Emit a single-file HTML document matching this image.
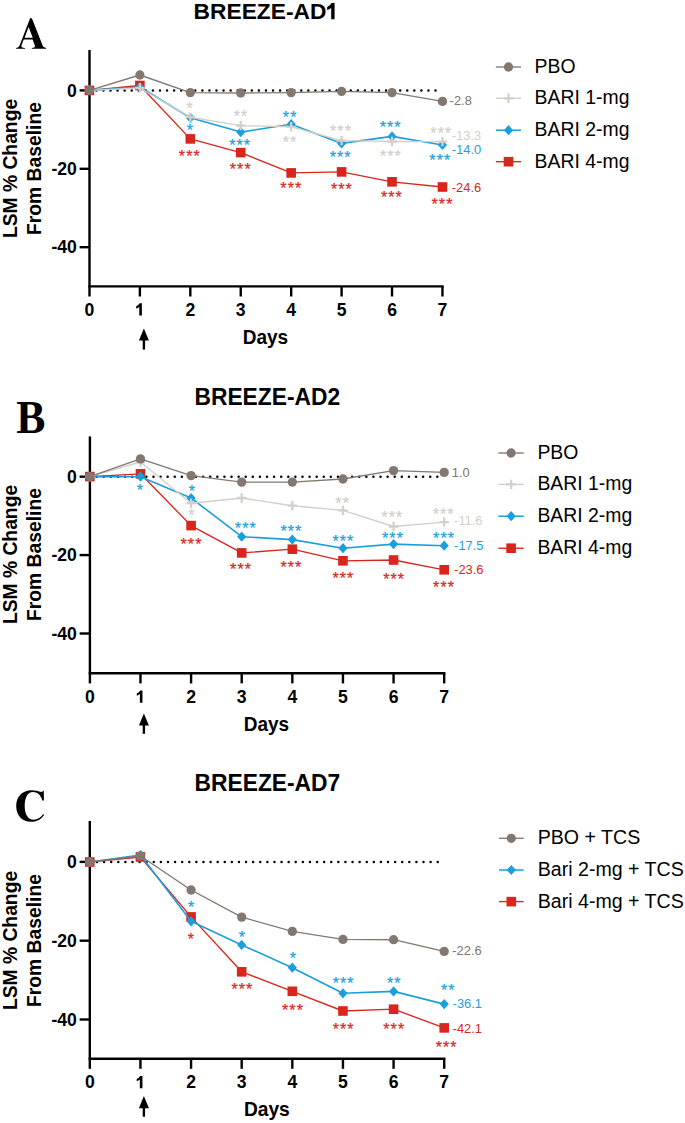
<!DOCTYPE html>
<html><head><meta charset="utf-8"><style>
html,body{margin:0;padding:0;background:#fff;}
svg{display:block;}
text{font-family:"Liberation Sans",sans-serif;}
text.serif{font-family:"Liberation Serif",serif;}
text.st{font-size:16px;stroke-width:0.25px;}
</style></head><body>
<svg width="685" height="1123" viewBox="0 0 685 1123">
<rect width="685" height="1123" fill="#fff"/>
<path fill-rule="evenodd" fill="#000" d="M30.1 18.3L31.9 18.3L42.9 46.3Q43.6 47.7 46.2 47.9L46.2 48.8L31.9 48.8L31.9 47.9Q34.8 47.8 35.0 46.8Q35.1 46.2 34.7 45.0L32.6 39.4L23.7 39.4L21.6 45.0Q21.0 47.0 22.2 47.6Q23.2 47.9 25.0 47.9L25.0 48.8L16.1 48.8L16.1 47.9Q18.6 47.7 19.6 45.6L30.1 18.3Z M28.6 27.0L24.6 37.8L32.8 37.8Z"/>
<text transform="translate(193.60,19.40)" font-size="22.75" font-weight="bold">BREEZE-AD</text>
<path fill="#000" d="M334.58 3.06L334.58 19.30L331.20 19.30L331.20 7.95Q329.51 9.40 327.17 10.06L327.17 7.02Q330.29 5.84 331.59 3.06Z"/>
<text transform="translate(17.15,168.50) rotate(-90) scale(1.0,1.05)" font-size="19.3" font-weight="bold" text-anchor="middle">LSM % Change</text>
<text transform="translate(40.90,168.50) rotate(-90)" font-size="19.3" font-weight="bold" text-anchor="middle">From Baseline</text>
<line x1="89.5" y1="50.0" x2="89.5" y2="296.5" stroke="#000" stroke-width="2.4"/>
<line x1="88.30" y1="286.4" x2="443.66" y2="286.4" stroke="#000" stroke-width="2.4"/>
<line x1="79.6" y1="90.40" x2="89.5" y2="90.40" stroke="#000" stroke-width="2.4"/>
<text transform="translate(76.90,96.60) scale(1.0,1.05)" font-size="17.6" font-weight="bold" text-anchor="end">0</text>
<line x1="79.6" y1="168.80" x2="89.5" y2="168.80" stroke="#000" stroke-width="2.4"/>
<text transform="translate(76.90,175.00) scale(1.0,1.05)" font-size="17.6" font-weight="bold" text-anchor="end">-20</text>
<line x1="79.6" y1="247.20" x2="89.5" y2="247.20" stroke="#000" stroke-width="2.4"/>
<text transform="translate(76.90,253.40) scale(1.0,1.05)" font-size="17.6" font-weight="bold" text-anchor="end">-40</text>
<text transform="translate(89.45,315.60) scale(1.0,1.03)" font-size="17.6" font-weight="bold" text-anchor="middle">0</text>
<line x1="139.88" y1="286.4" x2="139.88" y2="296.5" stroke="#000" stroke-width="2.4"/>
<path fill="#000" d="M141.88 303.30L141.88 315.60L139.28 315.60L139.28 307.00Q137.98 308.10 136.18 308.60L136.18 306.30Q138.58 305.40 139.58 303.30Z"/>
<line x1="190.31" y1="286.4" x2="190.31" y2="296.5" stroke="#000" stroke-width="2.4"/>
<text transform="translate(190.31,315.60) scale(1.0,1.03)" font-size="17.6" font-weight="bold" text-anchor="middle">2</text>
<line x1="240.74" y1="286.4" x2="240.74" y2="296.5" stroke="#000" stroke-width="2.4"/>
<text transform="translate(240.74,315.60) scale(1.0,1.03)" font-size="17.6" font-weight="bold" text-anchor="middle">3</text>
<line x1="291.17" y1="286.4" x2="291.17" y2="296.5" stroke="#000" stroke-width="2.4"/>
<text transform="translate(291.17,315.60) scale(1.0,1.03)" font-size="17.6" font-weight="bold" text-anchor="middle">4</text>
<line x1="341.60" y1="286.4" x2="341.60" y2="296.5" stroke="#000" stroke-width="2.4"/>
<text transform="translate(341.60,315.60) scale(1.0,1.03)" font-size="17.6" font-weight="bold" text-anchor="middle">5</text>
<line x1="392.03" y1="286.4" x2="392.03" y2="296.5" stroke="#000" stroke-width="2.4"/>
<text transform="translate(392.03,315.60) scale(1.0,1.03)" font-size="17.6" font-weight="bold" text-anchor="middle">6</text>
<line x1="442.46" y1="286.4" x2="442.46" y2="296.5" stroke="#000" stroke-width="2.4"/>
<text transform="translate(442.46,315.60) scale(1.0,1.03)" font-size="17.6" font-weight="bold" text-anchor="middle">7</text>
<line x1="143.9" y1="339.60" x2="143.9" y2="349.60" stroke="#000" stroke-width="2.4"/>
<path d="M143.9 328.50L148.9 340.60L138.9 340.60Z" fill="#000"/>
<text transform="translate(242.70,343.70) scale(1.0,1.05)" font-size="19.0" font-weight="bold">Days</text>
<line x1="96.39" y1="90.40" x2="435.81" y2="90.40" stroke="#000" stroke-width="2.5" stroke-dasharray="0 7.065" stroke-linecap="round"/>
<polyline points="89.45,90.40 139.88,85.50 190.31,138.90 240.74,152.60 291.17,172.90 341.60,171.90 392.03,181.80 442.46,187.00" fill="none" stroke="#d9261c" stroke-width="1.35" stroke-linejoin="round"/>
<rect x="84.65" y="85.60" width="9.6" height="9.6" fill="#d9261c"/>
<rect x="135.08" y="80.70" width="9.6" height="9.6" fill="#d9261c"/>
<rect x="185.51" y="134.10" width="9.6" height="9.6" fill="#d9261c"/>
<rect x="235.94" y="147.80" width="9.6" height="9.6" fill="#d9261c"/>
<rect x="286.37" y="168.10" width="9.6" height="9.6" fill="#d9261c"/>
<rect x="336.80" y="167.10" width="9.6" height="9.6" fill="#d9261c"/>
<rect x="387.23" y="177.00" width="9.6" height="9.6" fill="#d9261c"/>
<rect x="437.66" y="182.20" width="9.6" height="9.6" fill="#d9261c"/>
<polyline points="89.45,90.40 139.88,87.00 190.31,117.80 240.74,132.10 291.17,124.20 341.60,143.40 392.03,136.40 442.46,145.00" fill="none" stroke="#1b9fdc" stroke-width="1.6" stroke-linejoin="round"/>
<path d="M89.45 85.30L94.05 90.40L89.45 95.50L84.85 90.40Z" fill="#1b9fdc"/>
<path d="M139.88 81.90L144.48 87.00L139.88 92.10L135.28 87.00Z" fill="#1b9fdc"/>
<path d="M190.31 112.70L194.91 117.80L190.31 122.90L185.71 117.80Z" fill="#1b9fdc"/>
<path d="M240.74 127.00L245.34 132.10L240.74 137.20L236.14 132.10Z" fill="#1b9fdc"/>
<path d="M291.17 119.10L295.77 124.20L291.17 129.30L286.57 124.20Z" fill="#1b9fdc"/>
<path d="M341.60 138.30L346.20 143.40L341.60 148.50L337.00 143.40Z" fill="#1b9fdc"/>
<path d="M392.03 131.30L396.63 136.40L392.03 141.50L387.43 136.40Z" fill="#1b9fdc"/>
<path d="M442.46 139.90L447.06 145.00L442.46 150.10L437.86 145.00Z" fill="#1b9fdc"/>
<polyline points="89.45,90.40 139.88,88.00 190.31,117.20 240.74,125.60 291.17,126.80 341.60,140.60 392.03,141.50 442.46,141.60" fill="none" stroke="#d2d0ca" stroke-width="1.4" stroke-linejoin="round"/>
<path d="M84.75 90.40H94.15M89.45 85.70V95.10" stroke="#d2d0ca" stroke-width="2.3"/>
<path d="M135.18 88.00H144.58M139.88 83.30V92.70" stroke="#d2d0ca" stroke-width="2.3"/>
<path d="M185.61 117.20H195.01M190.31 112.50V121.90" stroke="#d2d0ca" stroke-width="2.3"/>
<path d="M236.04 125.60H245.44M240.74 120.90V130.30" stroke="#d2d0ca" stroke-width="2.3"/>
<path d="M286.47 126.80H295.87M291.17 122.10V131.50" stroke="#d2d0ca" stroke-width="2.3"/>
<path d="M336.90 140.60H346.30M341.60 135.90V145.30" stroke="#d2d0ca" stroke-width="2.3"/>
<path d="M387.33 141.50H396.73M392.03 136.80V146.20" stroke="#d2d0ca" stroke-width="2.3"/>
<path d="M437.76 141.60H447.16M442.46 136.90V146.30" stroke="#d2d0ca" stroke-width="2.3"/>
<polyline points="89.45,90.40 139.88,75.00 190.31,92.60 240.74,93.00 291.17,92.60 341.60,91.40 392.03,92.60 442.46,101.40" fill="none" stroke="#827870" stroke-width="1.35" stroke-linejoin="round"/>
<circle cx="89.45" cy="90.40" r="4.65" fill="#827870"/>
<circle cx="139.88" cy="75.00" r="4.65" fill="#827870"/>
<circle cx="190.31" cy="92.60" r="4.65" fill="#827870"/>
<circle cx="240.74" cy="93.00" r="4.65" fill="#827870"/>
<circle cx="291.17" cy="92.60" r="4.65" fill="#827870"/>
<circle cx="341.60" cy="91.40" r="4.65" fill="#827870"/>
<circle cx="392.03" cy="92.60" r="4.65" fill="#827870"/>
<circle cx="442.46" cy="101.40" r="4.65" fill="#827870"/>
<text x="189.65" y="114.30" text-anchor="middle" class="st" fill="#d2d0ca" stroke="#d2d0ca">*</text>
<text x="189.75" y="136.10" text-anchor="middle" class="st" fill="#1b9fdc" stroke="#1b9fdc">*</text>
<text x="181.95" y="161.60" text-anchor="middle" class="st" fill="#d9261c" stroke="#d9261c">*</text>
<text x="189.25" y="161.60" text-anchor="middle" class="st" fill="#d9261c" stroke="#d9261c">*</text>
<text x="196.55" y="161.60" text-anchor="middle" class="st" fill="#d9261c" stroke="#d9261c">*</text>
<text x="236.85" y="122.40" text-anchor="middle" class="st" fill="#d2d0ca" stroke="#d2d0ca">*</text>
<text x="244.15" y="122.40" text-anchor="middle" class="st" fill="#d2d0ca" stroke="#d2d0ca">*</text>
<text x="232.30" y="151.10" text-anchor="middle" class="st" fill="#1b9fdc" stroke="#1b9fdc">*</text>
<text x="239.60" y="151.10" text-anchor="middle" class="st" fill="#1b9fdc" stroke="#1b9fdc">*</text>
<text x="246.90" y="151.10" text-anchor="middle" class="st" fill="#1b9fdc" stroke="#1b9fdc">*</text>
<text x="232.90" y="174.70" text-anchor="middle" class="st" fill="#d9261c" stroke="#d9261c">*</text>
<text x="240.20" y="174.70" text-anchor="middle" class="st" fill="#d9261c" stroke="#d9261c">*</text>
<text x="247.50" y="174.70" text-anchor="middle" class="st" fill="#d9261c" stroke="#d9261c">*</text>
<text x="285.95" y="122.80" text-anchor="middle" class="st" fill="#1b9fdc" stroke="#1b9fdc">*</text>
<text x="293.25" y="122.80" text-anchor="middle" class="st" fill="#1b9fdc" stroke="#1b9fdc">*</text>
<text x="285.90" y="148.10" text-anchor="middle" class="st" fill="#d2d0ca" stroke="#d2d0ca">*</text>
<text x="293.20" y="148.10" text-anchor="middle" class="st" fill="#d2d0ca" stroke="#d2d0ca">*</text>
<text x="283.45" y="194.40" text-anchor="middle" class="st" fill="#d9261c" stroke="#d9261c">*</text>
<text x="290.75" y="194.40" text-anchor="middle" class="st" fill="#d9261c" stroke="#d9261c">*</text>
<text x="298.05" y="194.40" text-anchor="middle" class="st" fill="#d9261c" stroke="#d9261c">*</text>
<text x="333.15" y="137.20" text-anchor="middle" class="st" fill="#d2d0ca" stroke="#d2d0ca">*</text>
<text x="340.45" y="137.20" text-anchor="middle" class="st" fill="#d2d0ca" stroke="#d2d0ca">*</text>
<text x="347.75" y="137.20" text-anchor="middle" class="st" fill="#d2d0ca" stroke="#d2d0ca">*</text>
<text x="332.85" y="162.80" text-anchor="middle" class="st" fill="#1b9fdc" stroke="#1b9fdc">*</text>
<text x="340.15" y="162.80" text-anchor="middle" class="st" fill="#1b9fdc" stroke="#1b9fdc">*</text>
<text x="347.45" y="162.80" text-anchor="middle" class="st" fill="#1b9fdc" stroke="#1b9fdc">*</text>
<text x="334.05" y="194.50" text-anchor="middle" class="st" fill="#d9261c" stroke="#d9261c">*</text>
<text x="341.35" y="194.50" text-anchor="middle" class="st" fill="#d9261c" stroke="#d9261c">*</text>
<text x="348.65" y="194.50" text-anchor="middle" class="st" fill="#d9261c" stroke="#d9261c">*</text>
<text x="382.75" y="132.70" text-anchor="middle" class="st" fill="#1b9fdc" stroke="#1b9fdc">*</text>
<text x="390.05" y="132.70" text-anchor="middle" class="st" fill="#1b9fdc" stroke="#1b9fdc">*</text>
<text x="397.35" y="132.70" text-anchor="middle" class="st" fill="#1b9fdc" stroke="#1b9fdc">*</text>
<text x="383.05" y="161.90" text-anchor="middle" class="st" fill="#d2d0ca" stroke="#d2d0ca">*</text>
<text x="390.35" y="161.90" text-anchor="middle" class="st" fill="#d2d0ca" stroke="#d2d0ca">*</text>
<text x="397.65" y="161.90" text-anchor="middle" class="st" fill="#d2d0ca" stroke="#d2d0ca">*</text>
<text x="384.05" y="203.20" text-anchor="middle" class="st" fill="#d9261c" stroke="#d9261c">*</text>
<text x="391.35" y="203.20" text-anchor="middle" class="st" fill="#d9261c" stroke="#d9261c">*</text>
<text x="398.65" y="203.20" text-anchor="middle" class="st" fill="#d9261c" stroke="#d9261c">*</text>
<text x="433.45" y="138.60" text-anchor="middle" class="st" fill="#d2d0ca" stroke="#d2d0ca">*</text>
<text x="440.75" y="138.60" text-anchor="middle" class="st" fill="#d2d0ca" stroke="#d2d0ca">*</text>
<text x="448.05" y="138.60" text-anchor="middle" class="st" fill="#d2d0ca" stroke="#d2d0ca">*</text>
<text x="432.45" y="165.70" text-anchor="middle" class="st" fill="#1b9fdc" stroke="#1b9fdc">*</text>
<text x="439.75" y="165.70" text-anchor="middle" class="st" fill="#1b9fdc" stroke="#1b9fdc">*</text>
<text x="447.05" y="165.70" text-anchor="middle" class="st" fill="#1b9fdc" stroke="#1b9fdc">*</text>
<text x="434.65" y="210.00" text-anchor="middle" class="st" fill="#d9261c" stroke="#d9261c">*</text>
<text x="441.95" y="210.00" text-anchor="middle" class="st" fill="#d9261c" stroke="#d9261c">*</text>
<text x="449.25" y="210.00" text-anchor="middle" class="st" fill="#d9261c" stroke="#d9261c">*</text>
<text transform="translate(449.60,104.85)" font-size="12.9" fill="#7d746d">-2.8</text>
<text transform="translate(451.80,140.05)" font-size="12.9" fill="#d2d0ca">-13.3</text>
<text transform="translate(451.80,154.15)" font-size="12.9" fill="#1b9fdc">-14.0</text>
<text transform="translate(451.80,192.45)" font-size="12.9" fill="#d9261c">-24.6</text>
<line x1="495.9" y1="67" x2="521.0" y2="67" stroke="#827870" stroke-width="1.35"/>
<circle cx="508.50" cy="67.00" r="4.65" fill="#827870"/>
<text transform="translate(534.60,73.00)" font-size="19.4">PBO</text>
<line x1="495.9" y1="98.3" x2="521.0" y2="98.3" stroke="#d2d0ca" stroke-width="1.35"/>
<path d="M503.80 98.30H513.20M508.50 93.60V103.00" stroke="#d2d0ca" stroke-width="2.3"/>
<text transform="translate(534.60,104.30)" font-size="19.4">BARI 1-mg</text>
<line x1="495.9" y1="130.2" x2="521.0" y2="130.2" stroke="#1b9fdc" stroke-width="1.5"/>
<path d="M508.50 125.10L513.10 130.20L508.50 135.30L503.90 130.20Z" fill="#1b9fdc"/>
<text transform="translate(534.60,136.20)" font-size="19.4">BARI 2-mg</text>
<line x1="495.9" y1="161.7" x2="521.0" y2="161.7" stroke="#d9261c" stroke-width="1.35"/>
<rect x="503.70" y="156.90" width="9.6" height="9.6" fill="#d9261c"/>
<text transform="translate(534.60,167.70)" font-size="19.4">BARI 4-mg</text>
<text transform="translate(16.30,433.10) scale(0.96,1.0)" font-size="45.5" font-weight="bold" class="serif">B</text>
<text transform="translate(194.50,404.80) scale(1.0,1.035)" font-size="22.8" font-weight="bold">BREEZE-AD2</text>
<text transform="translate(17.15,554.50) rotate(-90) scale(1.0,1.05)" font-size="19.3" font-weight="bold" text-anchor="middle">LSM % Change</text>
<text transform="translate(40.90,554.50) rotate(-90)" font-size="19.3" font-weight="bold" text-anchor="middle">From Baseline</text>
<line x1="89.9" y1="436.4" x2="89.9" y2="683.4" stroke="#000" stroke-width="2.4"/>
<line x1="88.70" y1="673.3" x2="445.39" y2="673.3" stroke="#000" stroke-width="2.4"/>
<line x1="79.6" y1="476.66" x2="89.9" y2="476.66" stroke="#000" stroke-width="2.4"/>
<text transform="translate(76.90,482.86) scale(1.0,1.05)" font-size="17.6" font-weight="bold" text-anchor="end">0</text>
<line x1="79.6" y1="555.08" x2="89.9" y2="555.08" stroke="#000" stroke-width="2.4"/>
<text transform="translate(76.90,561.28) scale(1.0,1.05)" font-size="17.6" font-weight="bold" text-anchor="end">-20</text>
<line x1="79.6" y1="633.50" x2="89.9" y2="633.50" stroke="#000" stroke-width="2.4"/>
<text transform="translate(76.90,639.70) scale(1.0,1.05)" font-size="17.6" font-weight="bold" text-anchor="end">-40</text>
<text transform="translate(89.85,702.70) scale(1.0,1.03)" font-size="17.6" font-weight="bold" text-anchor="middle">0</text>
<line x1="140.47" y1="673.3" x2="140.47" y2="683.4" stroke="#000" stroke-width="2.4"/>
<path fill="#000" d="M142.47 690.40L142.47 702.70L139.87 702.70L139.87 694.10Q138.57 695.20 136.77 695.70L136.77 693.40Q139.17 692.50 140.17 690.40Z"/>
<line x1="191.09" y1="673.3" x2="191.09" y2="683.4" stroke="#000" stroke-width="2.4"/>
<text transform="translate(191.09,702.70) scale(1.0,1.03)" font-size="17.6" font-weight="bold" text-anchor="middle">2</text>
<line x1="241.71" y1="673.3" x2="241.71" y2="683.4" stroke="#000" stroke-width="2.4"/>
<text transform="translate(241.71,702.70) scale(1.0,1.03)" font-size="17.6" font-weight="bold" text-anchor="middle">3</text>
<line x1="292.33" y1="673.3" x2="292.33" y2="683.4" stroke="#000" stroke-width="2.4"/>
<text transform="translate(292.33,702.70) scale(1.0,1.03)" font-size="17.6" font-weight="bold" text-anchor="middle">4</text>
<line x1="342.95" y1="673.3" x2="342.95" y2="683.4" stroke="#000" stroke-width="2.4"/>
<text transform="translate(342.95,702.70) scale(1.0,1.03)" font-size="17.6" font-weight="bold" text-anchor="middle">5</text>
<line x1="393.57" y1="673.3" x2="393.57" y2="683.4" stroke="#000" stroke-width="2.4"/>
<text transform="translate(393.57,702.70) scale(1.0,1.03)" font-size="17.6" font-weight="bold" text-anchor="middle">6</text>
<line x1="444.19" y1="673.3" x2="444.19" y2="683.4" stroke="#000" stroke-width="2.4"/>
<text transform="translate(444.19,702.70) scale(1.0,1.03)" font-size="17.6" font-weight="bold" text-anchor="middle">7</text>
<line x1="143.9" y1="724.50" x2="143.9" y2="733.80" stroke="#000" stroke-width="2.4"/>
<path d="M143.9 713.40L148.9 725.50L138.9 725.50Z" fill="#000"/>
<text transform="translate(243.70,731.00) scale(1.0,1.05)" font-size="19.0" font-weight="bold">Days</text>
<line x1="96.70" y1="476.66" x2="437.60" y2="476.66" stroke="#000" stroke-width="2.5" stroke-dasharray="0 7.096" stroke-linecap="round"/>
<polyline points="89.85,476.60 140.47,473.80 191.09,525.60 241.71,552.90 292.33,549.20 342.95,560.80 393.57,560.00 444.19,569.80" fill="none" stroke="#d9261c" stroke-width="1.35" stroke-linejoin="round"/>
<rect x="85.05" y="471.80" width="9.6" height="9.6" fill="#d9261c"/>
<rect x="135.67" y="469.00" width="9.6" height="9.6" fill="#d9261c"/>
<rect x="186.29" y="520.80" width="9.6" height="9.6" fill="#d9261c"/>
<rect x="236.91" y="548.10" width="9.6" height="9.6" fill="#d9261c"/>
<rect x="287.53" y="544.40" width="9.6" height="9.6" fill="#d9261c"/>
<rect x="338.15" y="556.00" width="9.6" height="9.6" fill="#d9261c"/>
<rect x="388.77" y="555.20" width="9.6" height="9.6" fill="#d9261c"/>
<rect x="439.39" y="565.00" width="9.6" height="9.6" fill="#d9261c"/>
<polyline points="89.85,476.60 140.47,476.70 191.09,498.00 241.71,536.70 292.33,539.60 342.95,548.20 393.57,544.10 444.19,545.70" fill="none" stroke="#1b9fdc" stroke-width="1.6" stroke-linejoin="round"/>
<path d="M89.85 471.50L94.45 476.60L89.85 481.70L85.25 476.60Z" fill="#1b9fdc"/>
<path d="M140.47 471.60L145.07 476.70L140.47 481.80L135.87 476.70Z" fill="#1b9fdc"/>
<path d="M191.09 492.90L195.69 498.00L191.09 503.10L186.49 498.00Z" fill="#1b9fdc"/>
<path d="M241.71 531.60L246.31 536.70L241.71 541.80L237.11 536.70Z" fill="#1b9fdc"/>
<path d="M292.33 534.50L296.93 539.60L292.33 544.70L287.73 539.60Z" fill="#1b9fdc"/>
<path d="M342.95 543.10L347.55 548.20L342.95 553.30L338.35 548.20Z" fill="#1b9fdc"/>
<path d="M393.57 539.00L398.17 544.10L393.57 549.20L388.97 544.10Z" fill="#1b9fdc"/>
<path d="M444.19 540.60L448.79 545.70L444.19 550.80L439.59 545.70Z" fill="#1b9fdc"/>
<polyline points="89.85,476.60 140.47,462.00 191.09,503.20 241.71,498.00 292.33,505.70 342.95,510.40 393.57,526.50 444.19,522.10" fill="none" stroke="#d2d0ca" stroke-width="1.4" stroke-linejoin="round"/>
<path d="M85.15 476.60H94.55M89.85 471.90V481.30" stroke="#d2d0ca" stroke-width="2.3"/>
<path d="M135.77 462.00H145.17M140.47 457.30V466.70" stroke="#d2d0ca" stroke-width="2.3"/>
<path d="M186.39 503.20H195.79M191.09 498.50V507.90" stroke="#d2d0ca" stroke-width="2.3"/>
<path d="M237.01 498.00H246.41M241.71 493.30V502.70" stroke="#d2d0ca" stroke-width="2.3"/>
<path d="M287.63 505.70H297.03M292.33 501.00V510.40" stroke="#d2d0ca" stroke-width="2.3"/>
<path d="M338.25 510.40H347.65M342.95 505.70V515.10" stroke="#d2d0ca" stroke-width="2.3"/>
<path d="M388.87 526.50H398.27M393.57 521.80V531.20" stroke="#d2d0ca" stroke-width="2.3"/>
<path d="M439.49 522.10H448.89M444.19 517.40V526.80" stroke="#d2d0ca" stroke-width="2.3"/>
<polyline points="89.85,476.60 140.47,458.90 191.09,475.60 241.71,482.10 292.33,482.10 342.95,479.00 393.57,470.60 444.19,472.40" fill="none" stroke="#827870" stroke-width="1.35" stroke-linejoin="round"/>
<circle cx="89.85" cy="476.60" r="4.65" fill="#827870"/>
<circle cx="140.47" cy="458.90" r="4.65" fill="#827870"/>
<circle cx="191.09" cy="475.60" r="4.65" fill="#827870"/>
<circle cx="241.71" cy="482.10" r="4.65" fill="#827870"/>
<circle cx="292.33" cy="482.10" r="4.65" fill="#827870"/>
<circle cx="342.95" cy="479.00" r="4.65" fill="#827870"/>
<circle cx="393.57" cy="470.60" r="4.65" fill="#827870"/>
<circle cx="444.19" cy="472.40" r="4.65" fill="#827870"/>
<text x="139.85" y="495.80" text-anchor="middle" class="st" fill="#1b9fdc" stroke="#1b9fdc">*</text>
<text x="191.85" y="497.10" text-anchor="middle" class="st" fill="#1b9fdc" stroke="#1b9fdc">*</text>
<text x="191.45" y="521.40" text-anchor="middle" class="st" fill="#d2d0ca" stroke="#d2d0ca">*</text>
<text x="183.65" y="550.30" text-anchor="middle" class="st" fill="#d9261c" stroke="#d9261c">*</text>
<text x="190.95" y="550.30" text-anchor="middle" class="st" fill="#d9261c" stroke="#d9261c">*</text>
<text x="198.25" y="550.30" text-anchor="middle" class="st" fill="#d9261c" stroke="#d9261c">*</text>
<text x="237.95" y="533.50" text-anchor="middle" class="st" fill="#1b9fdc" stroke="#1b9fdc">*</text>
<text x="245.25" y="533.50" text-anchor="middle" class="st" fill="#1b9fdc" stroke="#1b9fdc">*</text>
<text x="252.55" y="533.50" text-anchor="middle" class="st" fill="#1b9fdc" stroke="#1b9fdc">*</text>
<text x="233.20" y="574.90" text-anchor="middle" class="st" fill="#d9261c" stroke="#d9261c">*</text>
<text x="240.50" y="574.90" text-anchor="middle" class="st" fill="#d9261c" stroke="#d9261c">*</text>
<text x="247.80" y="574.90" text-anchor="middle" class="st" fill="#d9261c" stroke="#d9261c">*</text>
<text x="283.50" y="537.20" text-anchor="middle" class="st" fill="#1b9fdc" stroke="#1b9fdc">*</text>
<text x="290.80" y="537.20" text-anchor="middle" class="st" fill="#1b9fdc" stroke="#1b9fdc">*</text>
<text x="298.10" y="537.20" text-anchor="middle" class="st" fill="#1b9fdc" stroke="#1b9fdc">*</text>
<text x="283.50" y="572.50" text-anchor="middle" class="st" fill="#d9261c" stroke="#d9261c">*</text>
<text x="290.80" y="572.50" text-anchor="middle" class="st" fill="#d9261c" stroke="#d9261c">*</text>
<text x="298.10" y="572.50" text-anchor="middle" class="st" fill="#d9261c" stroke="#d9261c">*</text>
<text x="338.45" y="508.90" text-anchor="middle" class="st" fill="#d2d0ca" stroke="#d2d0ca">*</text>
<text x="345.75" y="508.90" text-anchor="middle" class="st" fill="#d2d0ca" stroke="#d2d0ca">*</text>
<text x="335.60" y="547.40" text-anchor="middle" class="st" fill="#1b9fdc" stroke="#1b9fdc">*</text>
<text x="342.90" y="547.40" text-anchor="middle" class="st" fill="#1b9fdc" stroke="#1b9fdc">*</text>
<text x="350.20" y="547.40" text-anchor="middle" class="st" fill="#1b9fdc" stroke="#1b9fdc">*</text>
<text x="335.60" y="583.70" text-anchor="middle" class="st" fill="#d9261c" stroke="#d9261c">*</text>
<text x="342.90" y="583.70" text-anchor="middle" class="st" fill="#d9261c" stroke="#d9261c">*</text>
<text x="350.20" y="583.70" text-anchor="middle" class="st" fill="#d9261c" stroke="#d9261c">*</text>
<text x="384.50" y="523.00" text-anchor="middle" class="st" fill="#d2d0ca" stroke="#d2d0ca">*</text>
<text x="391.80" y="523.00" text-anchor="middle" class="st" fill="#d2d0ca" stroke="#d2d0ca">*</text>
<text x="399.10" y="523.00" text-anchor="middle" class="st" fill="#d2d0ca" stroke="#d2d0ca">*</text>
<text x="385.15" y="544.30" text-anchor="middle" class="st" fill="#1b9fdc" stroke="#1b9fdc">*</text>
<text x="392.45" y="544.30" text-anchor="middle" class="st" fill="#1b9fdc" stroke="#1b9fdc">*</text>
<text x="399.75" y="544.30" text-anchor="middle" class="st" fill="#1b9fdc" stroke="#1b9fdc">*</text>
<text x="386.35" y="585.10" text-anchor="middle" class="st" fill="#d9261c" stroke="#d9261c">*</text>
<text x="393.65" y="585.10" text-anchor="middle" class="st" fill="#d9261c" stroke="#d9261c">*</text>
<text x="400.95" y="585.10" text-anchor="middle" class="st" fill="#d9261c" stroke="#d9261c">*</text>
<text x="435.80" y="520.30" text-anchor="middle" class="st" fill="#d2d0ca" stroke="#d2d0ca">*</text>
<text x="443.10" y="520.30" text-anchor="middle" class="st" fill="#d2d0ca" stroke="#d2d0ca">*</text>
<text x="450.40" y="520.30" text-anchor="middle" class="st" fill="#d2d0ca" stroke="#d2d0ca">*</text>
<text x="436.20" y="544.20" text-anchor="middle" class="st" fill="#1b9fdc" stroke="#1b9fdc">*</text>
<text x="443.50" y="544.20" text-anchor="middle" class="st" fill="#1b9fdc" stroke="#1b9fdc">*</text>
<text x="450.80" y="544.20" text-anchor="middle" class="st" fill="#1b9fdc" stroke="#1b9fdc">*</text>
<text x="436.20" y="593.40" text-anchor="middle" class="st" fill="#d9261c" stroke="#d9261c">*</text>
<text x="443.50" y="593.40" text-anchor="middle" class="st" fill="#d9261c" stroke="#d9261c">*</text>
<text x="450.80" y="593.40" text-anchor="middle" class="st" fill="#d9261c" stroke="#d9261c">*</text>
<text transform="translate(451.80,476.75)" font-size="12.9" fill="#7d746d">1.0</text>
<text transform="translate(454.10,525.05)" font-size="12.9" fill="#d2d0ca">-11.6</text>
<text transform="translate(454.10,550.45)" font-size="12.9" fill="#1b9fdc">-17.5</text>
<text transform="translate(454.10,574.15)" font-size="12.9" fill="#d9261c">-23.6</text>
<line x1="498.3" y1="453" x2="523.7" y2="453" stroke="#827870" stroke-width="1.35"/>
<circle cx="511.10" cy="453.00" r="4.65" fill="#827870"/>
<text transform="translate(537.40,459.00)" font-size="19.4">PBO</text>
<line x1="498.3" y1="484.4" x2="523.7" y2="484.4" stroke="#d2d0ca" stroke-width="1.35"/>
<path d="M506.40 484.40H515.80M511.10 479.70V489.10" stroke="#d2d0ca" stroke-width="2.3"/>
<text transform="translate(537.40,490.40)" font-size="19.4">BARI 1-mg</text>
<line x1="498.3" y1="516.2" x2="523.7" y2="516.2" stroke="#1b9fdc" stroke-width="1.5"/>
<path d="M511.10 511.10L515.70 516.20L511.10 521.30L506.50 516.20Z" fill="#1b9fdc"/>
<text transform="translate(537.40,522.20)" font-size="19.4">BARI 2-mg</text>
<line x1="498.3" y1="548.2" x2="523.7" y2="548.2" stroke="#d9261c" stroke-width="1.35"/>
<rect x="506.30" y="543.40" width="9.6" height="9.6" fill="#d9261c"/>
<text transform="translate(537.40,554.20)" font-size="19.4">BARI 4-mg</text>
<path fill="#000" d="M43.8 790.6L43.9 800.6L42.3 800.6C41.0 795.0 37.5 792.0 32.9 792.0C27.5 792.0 24.7 798.0 24.7 805.9C24.7 814.0 28.0 819.7 33.5 819.7C37.5 819.7 40.5 817.6 43.3 814.0L44.1 814.9C41.0 819.5 36.5 821.7 30.9 821.7C21.8 821.7 16.2 815.0 16.2 805.9C16.2 796.5 22.5 790.2 31.4 790.2C35.5 790.2 38.5 791.0 41.1 792.1Q42.6 791.6 43.8 790.6Z"/>
<text transform="translate(194.60,790.80) scale(1.0,1.03)" font-size="22.8" font-weight="bold">BREEZE-AD7</text>
<text transform="translate(17.15,940.50) rotate(-90) scale(1.0,1.05)" font-size="19.3" font-weight="bold" text-anchor="middle">LSM % Change</text>
<text transform="translate(40.90,940.50) rotate(-90)" font-size="19.3" font-weight="bold" text-anchor="middle">From Baseline</text>
<line x1="89.8" y1="821.0" x2="89.8" y2="1068.8" stroke="#000" stroke-width="2.4"/>
<line x1="88.60" y1="1058.7" x2="445.41" y2="1058.7" stroke="#000" stroke-width="2.4"/>
<line x1="79.6" y1="861.90" x2="89.8" y2="861.90" stroke="#000" stroke-width="2.4"/>
<text transform="translate(76.90,868.10) scale(1.0,1.05)" font-size="17.6" font-weight="bold" text-anchor="end">0</text>
<line x1="79.6" y1="940.70" x2="89.8" y2="940.70" stroke="#000" stroke-width="2.4"/>
<text transform="translate(76.90,946.90) scale(1.0,1.05)" font-size="17.6" font-weight="bold" text-anchor="end">-20</text>
<line x1="79.6" y1="1019.50" x2="89.8" y2="1019.50" stroke="#000" stroke-width="2.4"/>
<text transform="translate(76.90,1025.70) scale(1.0,1.05)" font-size="17.6" font-weight="bold" text-anchor="end">-40</text>
<text transform="translate(89.80,1088.20) scale(1.0,1.03)" font-size="17.6" font-weight="bold" text-anchor="middle">0</text>
<line x1="140.43" y1="1058.7" x2="140.43" y2="1068.8" stroke="#000" stroke-width="2.4"/>
<path fill="#000" d="M142.43 1075.90L142.43 1088.20L139.83 1088.20L139.83 1079.60Q138.53 1080.70 136.73 1081.20L136.73 1078.90Q139.13 1078.00 140.13 1075.90Z"/>
<line x1="191.06" y1="1058.7" x2="191.06" y2="1068.8" stroke="#000" stroke-width="2.4"/>
<text transform="translate(191.06,1088.20) scale(1.0,1.03)" font-size="17.6" font-weight="bold" text-anchor="middle">2</text>
<line x1="241.69" y1="1058.7" x2="241.69" y2="1068.8" stroke="#000" stroke-width="2.4"/>
<text transform="translate(241.69,1088.20) scale(1.0,1.03)" font-size="17.6" font-weight="bold" text-anchor="middle">3</text>
<line x1="292.32" y1="1058.7" x2="292.32" y2="1068.8" stroke="#000" stroke-width="2.4"/>
<text transform="translate(292.32,1088.20) scale(1.0,1.03)" font-size="17.6" font-weight="bold" text-anchor="middle">4</text>
<line x1="342.95" y1="1058.7" x2="342.95" y2="1068.8" stroke="#000" stroke-width="2.4"/>
<text transform="translate(342.95,1088.20) scale(1.0,1.03)" font-size="17.6" font-weight="bold" text-anchor="middle">5</text>
<line x1="393.58" y1="1058.7" x2="393.58" y2="1068.8" stroke="#000" stroke-width="2.4"/>
<text transform="translate(393.58,1088.20) scale(1.0,1.03)" font-size="17.6" font-weight="bold" text-anchor="middle">6</text>
<line x1="444.21" y1="1058.7" x2="444.21" y2="1068.8" stroke="#000" stroke-width="2.4"/>
<text transform="translate(444.21,1088.20) scale(1.0,1.03)" font-size="17.6" font-weight="bold" text-anchor="middle">7</text>
<line x1="143.9" y1="1107.20" x2="143.9" y2="1116.70" stroke="#000" stroke-width="2.4"/>
<path d="M143.9 1096.10L148.9 1108.20L138.9 1108.20Z" fill="#000"/>
<text transform="translate(243.90,1116.30) scale(1.0,1.05)" font-size="19.2" font-weight="bold">Days</text>
<line x1="97.00" y1="861.90" x2="438.00" y2="861.90" stroke="#000" stroke-width="2.5" stroke-dasharray="0 7.098" stroke-linecap="round"/>
<polyline points="89.80,862.00 140.43,857.00 191.06,916.90 241.69,971.80 292.32,991.30 342.95,1011.00 393.58,1009.20 444.21,1027.90" fill="none" stroke="#d9261c" stroke-width="1.35" stroke-linejoin="round"/>
<rect x="85.00" y="857.20" width="9.6" height="9.6" fill="#d9261c"/>
<rect x="135.63" y="852.20" width="9.6" height="9.6" fill="#d9261c"/>
<rect x="186.26" y="912.10" width="9.6" height="9.6" fill="#d9261c"/>
<rect x="236.89" y="967.00" width="9.6" height="9.6" fill="#d9261c"/>
<rect x="287.52" y="986.50" width="9.6" height="9.6" fill="#d9261c"/>
<rect x="338.15" y="1006.20" width="9.6" height="9.6" fill="#d9261c"/>
<rect x="388.78" y="1004.40" width="9.6" height="9.6" fill="#d9261c"/>
<rect x="439.41" y="1023.10" width="9.6" height="9.6" fill="#d9261c"/>
<polyline points="89.80,862.00 140.43,855.00 191.06,921.30 241.69,944.90 292.32,967.70 342.95,993.30 393.58,991.40 444.21,1004.10" fill="none" stroke="#1b9fdc" stroke-width="1.6" stroke-linejoin="round"/>
<path d="M89.80 856.90L94.40 862.00L89.80 867.10L85.20 862.00Z" fill="#1b9fdc"/>
<path d="M140.43 849.90L145.03 855.00L140.43 860.10L135.83 855.00Z" fill="#1b9fdc"/>
<path d="M191.06 916.20L195.66 921.30L191.06 926.40L186.46 921.30Z" fill="#1b9fdc"/>
<path d="M241.69 939.80L246.29 944.90L241.69 950.00L237.09 944.90Z" fill="#1b9fdc"/>
<path d="M292.32 962.60L296.92 967.70L292.32 972.80L287.72 967.70Z" fill="#1b9fdc"/>
<path d="M342.95 988.20L347.55 993.30L342.95 998.40L338.35 993.30Z" fill="#1b9fdc"/>
<path d="M393.58 986.30L398.18 991.40L393.58 996.50L388.98 991.40Z" fill="#1b9fdc"/>
<path d="M444.21 999.00L448.81 1004.10L444.21 1009.20L439.61 1004.10Z" fill="#1b9fdc"/>
<polyline points="89.80,862.00 140.43,856.00 191.06,890.00 241.69,917.10 292.32,931.40 342.95,939.40 393.58,939.70 444.21,951.40" fill="none" stroke="#827870" stroke-width="1.35" stroke-linejoin="round"/>
<circle cx="89.80" cy="862.00" r="4.65" fill="#827870"/>
<circle cx="140.43" cy="856.00" r="4.65" fill="#827870"/>
<circle cx="191.06" cy="890.00" r="4.65" fill="#827870"/>
<circle cx="241.69" cy="917.10" r="4.65" fill="#827870"/>
<circle cx="292.32" cy="931.40" r="4.65" fill="#827870"/>
<circle cx="342.95" cy="939.40" r="4.65" fill="#827870"/>
<circle cx="393.58" cy="939.70" r="4.65" fill="#827870"/>
<circle cx="444.21" cy="951.40" r="4.65" fill="#827870"/>
<text x="191.15" y="913.20" text-anchor="middle" class="st" fill="#1b9fdc" stroke="#1b9fdc">*</text>
<text x="190.85" y="945.00" text-anchor="middle" class="st" fill="#d9261c" stroke="#d9261c">*</text>
<text x="241.85" y="943.40" text-anchor="middle" class="st" fill="#1b9fdc" stroke="#1b9fdc">*</text>
<text x="234.50" y="994.90" text-anchor="middle" class="st" fill="#d9261c" stroke="#d9261c">*</text>
<text x="241.80" y="994.90" text-anchor="middle" class="st" fill="#d9261c" stroke="#d9261c">*</text>
<text x="249.10" y="994.90" text-anchor="middle" class="st" fill="#d9261c" stroke="#d9261c">*</text>
<text x="292.75" y="964.30" text-anchor="middle" class="st" fill="#1b9fdc" stroke="#1b9fdc">*</text>
<text x="285.15" y="1016.20" text-anchor="middle" class="st" fill="#d9261c" stroke="#d9261c">*</text>
<text x="292.45" y="1016.20" text-anchor="middle" class="st" fill="#d9261c" stroke="#d9261c">*</text>
<text x="299.75" y="1016.20" text-anchor="middle" class="st" fill="#d9261c" stroke="#d9261c">*</text>
<text x="335.85" y="989.10" text-anchor="middle" class="st" fill="#1b9fdc" stroke="#1b9fdc">*</text>
<text x="343.15" y="989.10" text-anchor="middle" class="st" fill="#1b9fdc" stroke="#1b9fdc">*</text>
<text x="350.45" y="989.10" text-anchor="middle" class="st" fill="#1b9fdc" stroke="#1b9fdc">*</text>
<text x="335.85" y="1035.40" text-anchor="middle" class="st" fill="#d9261c" stroke="#d9261c">*</text>
<text x="343.15" y="1035.40" text-anchor="middle" class="st" fill="#d9261c" stroke="#d9261c">*</text>
<text x="350.45" y="1035.40" text-anchor="middle" class="st" fill="#d9261c" stroke="#d9261c">*</text>
<text x="390.00" y="989.40" text-anchor="middle" class="st" fill="#1b9fdc" stroke="#1b9fdc">*</text>
<text x="397.30" y="989.40" text-anchor="middle" class="st" fill="#1b9fdc" stroke="#1b9fdc">*</text>
<text x="386.40" y="1035.40" text-anchor="middle" class="st" fill="#d9261c" stroke="#d9261c">*</text>
<text x="393.70" y="1035.40" text-anchor="middle" class="st" fill="#d9261c" stroke="#d9261c">*</text>
<text x="401.00" y="1035.40" text-anchor="middle" class="st" fill="#d9261c" stroke="#d9261c">*</text>
<text x="444.15" y="996.40" text-anchor="middle" class="st" fill="#1b9fdc" stroke="#1b9fdc">*</text>
<text x="451.45" y="996.40" text-anchor="middle" class="st" fill="#1b9fdc" stroke="#1b9fdc">*</text>
<text x="438.75" y="1052.50" text-anchor="middle" class="st" fill="#d9261c" stroke="#d9261c">*</text>
<text x="446.05" y="1052.50" text-anchor="middle" class="st" fill="#d9261c" stroke="#d9261c">*</text>
<text x="453.35" y="1052.50" text-anchor="middle" class="st" fill="#d9261c" stroke="#d9261c">*</text>
<text transform="translate(452.30,954.95)" font-size="12.9" fill="#7d746d">-22.6</text>
<text transform="translate(452.60,1008.35)" font-size="12.9" fill="#1b9fdc">-36.1</text>
<text transform="translate(452.60,1032.85)" font-size="12.9" fill="#d9261c">-42.1</text>
<line x1="499.0" y1="838.3" x2="523.7" y2="838.3" stroke="#827870" stroke-width="1.35"/>
<circle cx="511.30" cy="838.30" r="4.65" fill="#827870"/>
<text transform="translate(537.70,844.30)" font-size="19.6">PBO + TCS</text>
<line x1="499.0" y1="870.0" x2="523.7" y2="870.0" stroke="#1b9fdc" stroke-width="1.5"/>
<path d="M511.30 864.90L515.90 870.00L511.30 875.10L506.70 870.00Z" fill="#1b9fdc"/>
<text transform="translate(537.70,876.00)" font-size="19.6">Bari 2-mg + TCS</text>
<line x1="499.0" y1="901.6" x2="523.7" y2="901.6" stroke="#d9261c" stroke-width="1.35"/>
<rect x="506.50" y="896.80" width="9.6" height="9.6" fill="#d9261c"/>
<text transform="translate(537.70,907.60)" font-size="19.6">Bari 4-mg + TCS</text>
</svg>
</body></html>
